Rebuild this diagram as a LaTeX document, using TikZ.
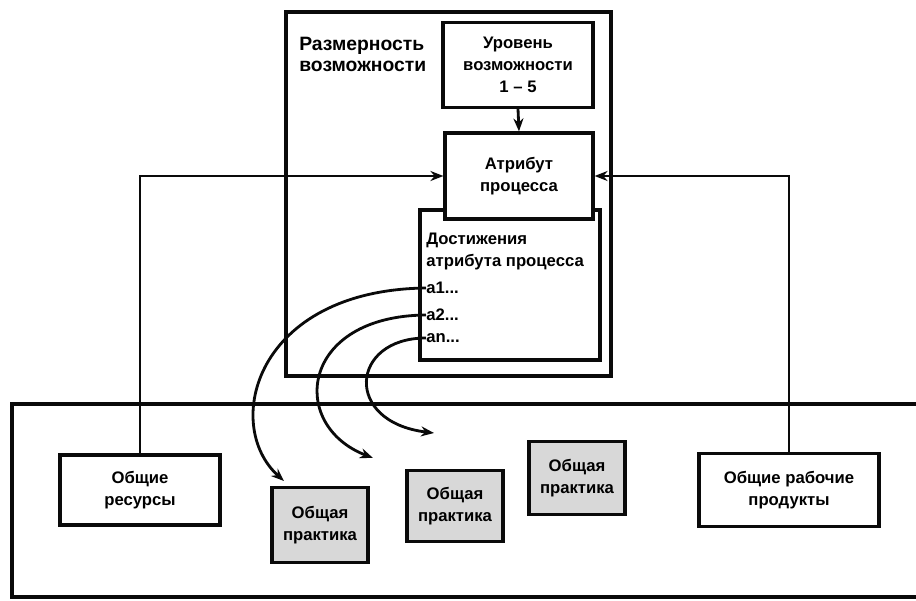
\documentclass[tikz,border=0pt]{standalone}
\usepackage{fontspec}
\setmainfont{Liberation Sans}
\usepackage{xcolor}
\usepackage{tikz}
\usetikzlibrary{
  arrows.meta,
  positioning
}
\definecolor{inkline}{RGB}{10,10,10}
\definecolor{practice}{RGB}{216,216,216}
\tikzset{
  gost/.style={ font=\fontsize{9.5}{12.5}\selectfont\bfseries },
  frame/.style={
    draw=inkline,
    line width=2.3pt
  },
  blockbox/.style={
    draw=inkline,
    fill=white,
    line width=1.8pt,
    align=center,
    inner sep=3pt
  },
  practbox/.style={
    blockbox,
    fill=practice,
    minimum width=1.92cm
  },
  itemtext/.style={
    anchor=west,
    inner sep=0pt
  },
  link/.style={
    line width=1.6pt,
    draw=inkline
  },
  arrow/.style={
    link,
    -{Stealth[length=2.6mm,width=2mm]}
  }
}
\begin{document}
\begin{tikzpicture}[gost, x=0.02cm, y=-0.02cm]
  \useasboundingbox (0,0) rectangle (916,601);
  % capability dimension
  \node[frame, minimum width=6.5cm, minimum height=7.28cm] (dim) at (448.5,194) {};
  \node[anchor=north west, align=left, inner sep=0pt,
        font=\fontsize{11}{12}\selectfont\bfseries] (dimlabel) at (299,37)
    {Размерность\\возможности};
  \node[blockbox, minimum width=3.0cm, minimum height=1.7cm] (level) at (518,65)
    {Уровень\\возможности\\1 -- 5};
  \node[blockbox, minimum width=3.6cm, minimum height=3.0cm] (ach) at (510,285) {};
  \node[blockbox, minimum width=2.96cm, minimum height=1.72cm] (attr) at (519,176)
    {Атрибут\\процесса};
  \node[anchor=north west, align=left, inner sep=0pt] (achtitle) at (426,233)
    {Достижения\\атрибута процесса};
  \node[itemtext] (a1) at (426,288) {а1...};
  \node[itemtext] (a2) at (426,315) {а2...};
  \node[itemtext] (an) at (426,338) {аn...};
  \draw[arrow] (level.south) -- (attr.north);

  % practice area
  \draw[frame] (916,404) -| (12,597) -- (916,597);
  \node[blockbox, minimum width=3.2cm, minimum height=1.4cm] (res) at (140,490)
    {Общие\\ресурсы};
  \node[practbox, minimum height=1.5cm] (pr1) at (320,525) {Общая\\практика};
  \node[practbox, minimum height=1.42cm] (pr2) at (455,506) {Общая\\практика};
  \node[practbox, minimum height=1.46cm] (pr3) at (577,478) {Общая\\практика};
  \node[blockbox, minimum width=3.6cm, minimum height=1.46cm] (prod) at (789,490)
    {Общие рабочие\\продукты};
  \coordinate (tip1) at (284,481);
  \coordinate (tip2) at (373,458);
  \coordinate (tipn) at (434,433);

  \draw[arrow] (res.north) |- (attr.west);
  \draw[arrow] (prod.north) |- (attr.east);
  \draw[arrow] (a1.west) .. controls (255,290) and (222,425) .. (tip1);
  \draw[arrow] (a2.west) .. controls (300,316) and (288,425) .. (tip2);
  \draw[arrow] (an.west) .. controls (350,338) and (343,422) .. (tipn);
\end{tikzpicture}
\end{document}
